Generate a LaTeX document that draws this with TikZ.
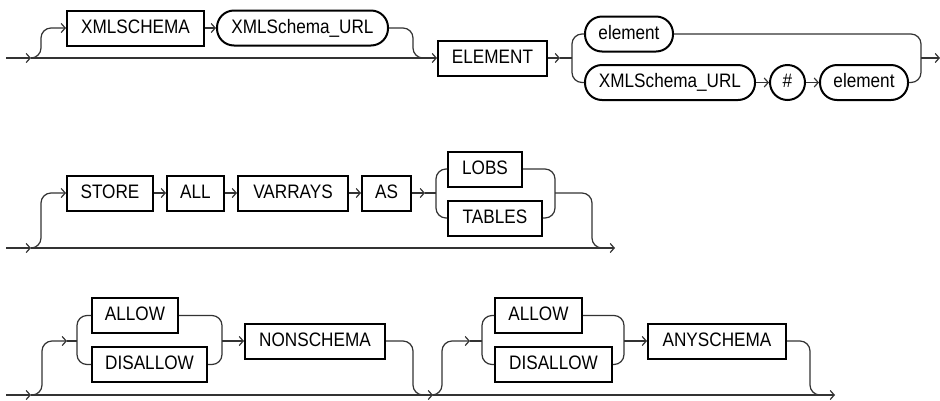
\documentclass[tikz,border=0pt]{standalone}
\usepackage{fontspec}
\setmainfont{Liberation Sans}[FakeStretch=0.88]
\usetikzlibrary{arrows.meta}
\begin{document}
\begin{tikzpicture}[x=1pt,y=-1pt,
  rail/.style={draw=black!80, line width=1.2pt, rounded corners=10pt},
  arr/.style={-{Straight Barb[length=4pt,width=9pt]}},
  kw/.style={draw=black, line width=2pt, minimum height=35pt, inner sep=0pt,
    font=\fontsize{19.5}{22}\selectfont, text height=14pt, text depth=4pt},
  term/.style={kw, rounded corners=17pt},
  circ/.style={draw=black, line width=2pt, circle, minimum size=35pt, inner sep=0pt,
    font=\fontsize{19.5}{22}\selectfont, text height=14pt, text depth=4pt}
]
\useasboundingbox (0,0) rectangle (940,400);

% ---------- Row 1 ----------
\node[kw, minimum width=137pt] (xs) at (135.5,28) {XMLSCHEMA};
\node[term, minimum width=171pt] (u1) at (302.5,28) {XMLSchema\_URL};
\node[kw, minimum width=109pt] (el) at (492.5,58) {ELEMENT};
\node[term, minimum width=88pt] (e1) at (629,34) {element};
\node[term, minimum width=170pt] (u2) at (670,82.5) {XMLSchema\_URL};
\node[circ] (h) at (787.5,82.5) {\#};
\node[term, minimum width=88pt] (e2) at (864,82.5) {element};

\coordinate (s1) at (6,58);
\coordinate (b1) at (31,58);
\coordinate (sp1) at (560,58);
\coordinate (v1) at (572,58);
\coordinate (j1) at (921,58);
\coordinate (end1) at (940,58);

\draw[rail,arr] (s1) -- (b1);
\draw[rail,arr] (b1) -- (el.west);
\draw[rail,arr] (b1) -- (41,58) -- (41,28) -- (xs.west);
\draw[rail,arr] (xs.east) -- (u1.west);
\draw[rail] (u1.east) -- (413,28) -- (413,58) -- (423,58);
\draw[rail,arr] (el.east) -- (sp1);
\draw[rail] (sp1) -- (v1);
\draw[rail] (e1.west) -- (572,34) -- (572,82.5) -- (u2.west);
\draw[rail,arr] (u2.east) -- (h.west);
\draw[rail,arr] (h.east) -- (e2.west);
\draw[rail] (e1.east) -- (921,34) -- (921,82.5) -- (e2.east);
\draw[rail,arr] (j1) -- (end1);

% ---------- Row 2 ----------
\node[kw, minimum width=86pt] (st) at (110,193) {STORE};
\node[kw, minimum width=57pt] (al) at (195.5,193) {ALL};
\node[kw, minimum width=110pt] (va) at (293,193) {VARRAYS};
\node[kw, minimum width=49pt] (as) at (386.5,193) {AS};
\node[kw, minimum width=74pt] (lo) at (485,169) {LOBS};
\node[kw, minimum width=94pt] (ta) at (495,218) {TABLES};

\coordinate (s2) at (6,248);
\coordinate (b2) at (31,248);
\coordinate (sp2) at (425,193);
\coordinate (v2) at (436,193);
\coordinate (j2) at (555,193);
\coordinate (end2) at (615,248);

\draw[rail,arr] (s2) -- (b2);
\draw[rail,arr] (b2) -- (end2);
\draw[rail,arr] (b2) -- (41,248) -- (41,193) -- (st.west);
\draw[rail,arr] (st.east) -- (al.west);
\draw[rail,arr] (al.east) -- (va.west);
\draw[rail,arr] (va.east) -- (as.west);
\draw[rail,arr] (as.east) -- (sp2);
\draw[rail] (sp2) -- (v2);
\draw[rail] (lo.west) -- (436,169) -- (436,218) -- (ta.west);
\draw[rail] (lo.east) -- (555,169) -- (555,218) -- (ta.east);
\draw[rail] (j2) -- (592,193) -- (592,248) -- (602,248);

% ---------- Row 3 ----------
\node[kw, minimum width=86pt] (a1) at (135,315.5) {ALLOW};
\node[kw, minimum width=115pt] (d1) at (149.5,364.5) {DISALLOW};
\node[kw, minimum width=140pt] (ns) at (315,341) {NONSCHEMA};
\node[kw, minimum width=87pt] (a2) at (538.5,315.5) {ALLOW};
\node[kw, minimum width=117pt] (d2) at (553.5,364.5) {DISALLOW};
\node[kw, minimum width=138pt] (an) at (717,341) {ANYSCHEMA};

\coordinate (s3) at (6,395);
\coordinate (b3) at (31,395);
\coordinate (m3) at (433,395);
\coordinate (end3) at (835,395);
\coordinate (p3) at (67,341);
\coordinate (v3) at (77,341);
\coordinate (j3) at (222,341);
\coordinate (p4) at (470,341);
\coordinate (v4) at (482,341);
\coordinate (j4) at (624,341);

\draw[rail,arr] (s3) -- (b3);
\draw[rail,arr] (b3) -- (m3);
\draw[rail,arr] (m3) -- (end3);
\draw[rail,arr] (b3) -- (42,395) -- (42,341) -- (p3);
\draw[rail] (p3) -- (v3);
\draw[rail] (a1.west) -- (77,315.5) -- (77,364.5) -- (d1.west);
\draw[rail] (a1.east) -- (222,315.5) -- (222,364.5) -- (d1.east);
\draw[rail,arr] (j3) -- (ns.west);
\draw[rail] (ns.east) -- (413,341) -- (413,395) -- (423,395);
\draw[rail,arr] (m3) -- (442,395) -- (442,341) -- (p4);
\draw[rail] (p4) -- (v4);
\draw[rail] (a2.west) -- (482,315.5) -- (482,364.5) -- (d2.west);
\draw[rail] (a2.east) -- (624,315.5) -- (624,364.5) -- (d2.east);
\draw[rail,arr] (j4) -- (an.west);
\draw[rail] (an.east) -- (810,341) -- (810,395) -- (820,395);
\end{tikzpicture}
\end{document}
